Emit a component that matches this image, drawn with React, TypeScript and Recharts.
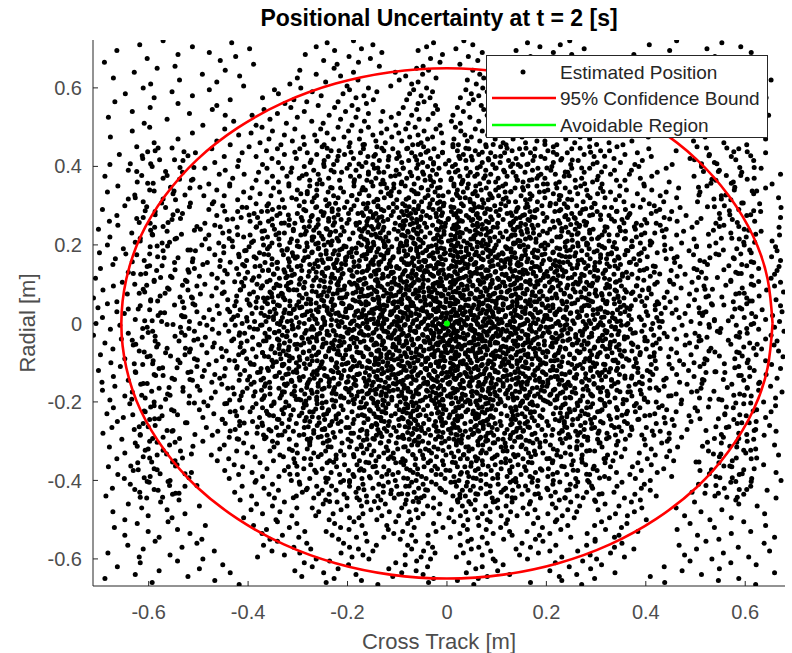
import React from "react";
import { ScatterChart, Scatter, XAxis, YAxis } from "recharts";

// tick values shared by both axes
const axisTicks = [-0.6, -0.4, -0.2, 0, 0.2, 0.4, 0.6];

// estimated positions, one row per radial band (thousandths of a metre):
// [radial, crossTrack, crossTrack, ...]
const rowsTop: number[][] = [
  [720, -571, -188, 34, 247, 462],
  [715, -433, -241, -27, 162, 553],
  [710, -618, -149, 52, 228, 407],
  [705, -512, -263, -41, 187, 591],
  [700, -397, -172, 18, 276, 523],
  [695, -664, -226, -58, 139, 448],
  [690, -478, -131, 71, 214, 612],
  [685, -541, -285, -9, 251, 376],
  [680, -425, -197, 43, 168, 539],
  [675, -603, -154, -33, 296, 471],
  [670, -456, -248, 62, 193, 634],
  [665, -689, -178, -14, 237, 418],
  [660, -389, -221, 26, 145, 566],
  [655, -547, -136, -48, 268, 497],
  [650, -583, -227, -61, 103, 284, 472],
  [645, -446, -296, -37, 52, 219, 611],
  [640, -629, -188, -104, 91, 317, 538],
  [635, -492, -263, -49, 66, 198, 427],
  [630, -417, -214, -83, 118, 273, 583],
  [625, -671, -301, -22, 74, 236, 495],
  [620, -538, -179, -96, 41, 327, 652],
  [615, -463, -244, -58, 109, 205, 401],
  [610, -596, -316, -71, 59, 262, 548],
  [605, -409, -201, -113, 87, 291, 466],
  [600, -611, -294, -158, -41, 72, 203, 341, 502],
  [595, -478, -347, -196, -67, 38, 161, 289, 623],
  [590, -553, -271, -141, -29, 81, 188, 372, 447],
  [585, -647, -339, -209, -75, 49, 152, 298, 581],
  [580, -512, -253, -167, -52, 64, 224, 354, 498],
  [575, -589, -371, -183, -34, 27, 179, 267, 642],
  [570, -436, -308, -148, -81, 53, 197, 332, 529],
  [565, -668, -282, -219, -46, 86, 146, 309, 467],
  [560, -541, -326, -162, -58, 44, 213, 383, 593],
  [555, -463, -259, -191, -23, 69, 168, 276, 548],
  [550, -597, -314, -226, -88, 21, 117, 183, 352, 486],
  [545, -472, -368, -179, -61, -19, 74, 238, 297, 612],
  [540, -633, -287, -204, -129, 33, 103, 167, 381, 531],
  [535, -518, -341, -158, -97, -28, 132, 226, 318, 463],
  [530, -446, -392, -237, -71, 12, 81, 194, 339, 647],
  [525, -681, -301, -183, -112, 46, 126, 251, 274, 509],
  [520, -563, -356, -214, -56, -38, 91, 172, 403, 572],
  [515, -429, -272, -166, -133, 9, 64, 219, 345, 438],
  [510, -609, -323, -249, -78, 27, 141, 206, 286, 596],
  [505, -491, -384, -191, -103, -14, 109, 162, 367, 528],
];

const rowsUpper: number[][] = [
  [500, -598, -372, -219, -158, -64, 17, 93, 139, 261, 318, 471],
  [495, -447, -306, -254, -121, -83, -22, 57, 176, 214, 389, 563],
  [490, -633, -351, -198, -173, -46, 28, 71, 162, 249, 297, 612],
  [485, -512, -394, -241, -132, -97, -11, 104, 128, 226, 361, 437],
  [480, -419, -327, -266, -149, -58, 36, 82, 187, 203, 334, 588],
  [475, -677, -289, -207, -111, -75, -29, 49, 151, 268, 405, 519],
  [470, -541, -358, -228, -176, -39, 14, 97, 133, 239, 287, 641],
  [465, -463, -311, -262, -143, -91, 41, 66, 181, 197, 372, 496],
  [460, -589, -376, -195, -124, -52, -8, 113, 158, 257, 326, 557],
  [455, -436, -334, -247, -169, -69, 23, 78, 119, 221, 354, 603],
  [450, -624, -398, -251, -197, -141, -47, 12, 79, 108, 214, 287, 342, 503],
  [445, -473, -341, -296, -168, -109, -81, -26, 44, 146, 177, 251, 406, 587],
  [440, -587, -363, -233, -217, -127, -38, 21, 57, 131, 203, 309, 327, 461],
  [435, -506, -412, -281, -174, -98, -71, -9, 88, 116, 168, 242, 383, 641],
  [430, -659, -327, -262, -206, -144, -53, 33, 64, 152, 221, 276, 358, 528],
  [425, -448, -384, -239, -159, -117, -64, -18, 49, 97, 189, 296, 411, 572],
  [420, -612, -352, -303, -188, -101, -33, 26, 83, 139, 197, 231, 336, 489],
  [415, -531, -419, -247, -221, -136, -77, 4, 38, 124, 173, 264, 393, 617],
  [410, -467, -339, -275, -163, -91, -49, -27, 71, 107, 214, 302, 349, 538],
  [405, -678, -371, -228, -196, -149, -58, 17, 92, 143, 161, 249, 378, 453],
  [400, -593, -421, -287, -247, -171, -119, -39, 11, 67, 128, 148, 211, 318, 386, 512],
  [395, -487, -362, -331, -201, -146, -88, -61, -16, 39, 97, 183, 251, 287, 441, 632],
  [390, -641, -446, -268, -233, -183, -102, -29, 22, 78, 114, 172, 209, 337, 371, 548],
  [385, -532, -379, -314, -212, -137, -127, -74, 4, 47, 133, 157, 243, 276, 423, 593],
  [380, -458, -408, -283, -259, -158, -96, -47, -21, 61, 88, 189, 218, 329, 367, 671],
  [375, -688, -351, -322, -194, -176, -113, -34, 26, 56, 121, 139, 236, 304, 412, 497],
  [370, -571, -431, -297, -238, -143, -81, -58, 9, 74, 103, 181, 197, 271, 389, 618],
  [365, -514, -384, -276, -216, -161, -129, -44, -13, 32, 142, 166, 258, 341, 358, 541],
  [360, -623, -362, -339, -187, -152, -91, -27, 31, 84, 98, 153, 226, 293, 447, 576],
  [355, -479, -437, -261, -251, -133, -107, -66, 14, 43, 118, 194, 202, 312, 396, 654],
  [350, -662, -437, -318, -276, -187, -149, -84, -31, 14, 58, 112, 163, 181, 269, 348, 397, 523],
  [345, -517, -392, -349, -231, -214, -121, -107, -52, -19, 41, 79, 137, 221, 238, 309, 466, 641],
  [340, -598, -463, -301, -262, -171, -164, -71, -38, 21, 69, 98, 154, 203, 281, 361, 412, 578],
  [335, -683, -409, -337, -239, -208, -133, -96, -24, 3, 33, 117, 128, 186, 247, 329, 441, 509],
  [330, -551, -376, -294, -281, -176, -118, -62, -58, 19, 52, 86, 167, 214, 263, 303, 383, 617],
  [325, -489, -448, -354, -228, -192, -157, -113, -17, -8, 61, 104, 149, 171, 229, 347, 429, 552],
  [320, -627, -396, -312, -267, -219, -126, -77, -44, 26, 37, 91, 119, 197, 288, 318, 462, 667],
  [315, -546, -421, -331, -244, -181, -139, -101, -29, 11, 71, 83, 158, 226, 251, 339, 395, 571],
  [310, -611, -469, -287, -271, -201, -147, -66, -51, -14, 47, 124, 138, 182, 274, 356, 436, 504],
  [305, -472, -384, -359, -237, -168, -108, -89, -34, 29, 54, 109, 161, 219, 236, 298, 407, 629],
  [300, -648, -451, -362, -297, -241, -187, -139, -84, -57, -7, 33, 96, 118, 191, 207, 261, 374, 417, 558],
  [295, -566, -403, -327, -264, -206, -161, -117, -101, -36, 14, 56, 71, 143, 158, 243, 291, 331, 469, 672],
  [290, -693, -479, -351, -288, -218, -193, -132, -67, -28, -16, 48, 87, 107, 181, 229, 273, 359, 428, 587],
  [285, -587, -421, -373, -253, -231, -154, -108, -91, -49, 9, 27, 99, 139, 167, 217, 302, 341, 452, 631],
  [280, -532, -388, -336, -301, -198, -179, -143, -73, -22, 18, 61, 76, 121, 193, 251, 268, 368, 411, 548],
  [275, -664, -463, -342, -271, -249, -168, -112, -78, -41, -11, 39, 104, 131, 152, 239, 287, 326, 481, 603],
  [270, -611, -414, -381, -293, -227, -149, -137, -96, -34, 21, 44, 63, 147, 177, 201, 256, 363, 437, 671],
  [265, -553, -442, -317, -259, -213, -197, -119, -61, -53, 2, 52, 91, 113, 163, 244, 309, 352, 398, 574],
  [260, -679, -396, -359, -276, -238, -161, -128, -88, -17, 24, 31, 79, 134, 196, 213, 276, 337, 463, 619],
  [255, -597, -487, -333, -306, -201, -183, -104, -69, -45, -3, 61, 102, 127, 149, 227, 261, 381, 421, 541],
  [250, -662, -467, -351, -318, -229, -182, -161, -94, -86, -29, 14, 52, 61, 128, 171, 183, 267, 279, 391, 429, 557],
  [245, -588, -422, -384, -287, -263, -211, -139, -127, -58, -41, -11, 23, 93, 101, 142, 216, 239, 322, 347, 493, 668],
  [240, -701, -496, -347, -309, -241, -176, -148, -106, -67, -21, 17, 39, 71, 133, 161, 207, 258, 294, 379, 441, 598],
  [235, -563, -438, -372, -283, -224, -207, -171, -98, -79, -52, -6, 46, 88, 119, 149, 193, 231, 317, 359, 476, 632],
  [230, -634, -451, -338, -327, -257, -189, -134, -117, -61, -34, 21, 31, 62, 107, 174, 202, 264, 287, 398, 418, 571],
  [225, -592, -479, -396, -294, -236, -214, -152, -89, -91, -19, 8, 57, 79, 131, 137, 186, 251, 312, 343, 462, 669],
  [220, -678, -409, -361, -271, -268, -173, -141, -123, -73, -44, -12, 26, 96, 112, 166, 221, 227, 306, 381, 437, 602],
  [215, -547, -486, -338, -313, -249, -196, -166, -101, -57, -27, 17, 48, 54, 123, 158, 179, 273, 291, 357, 497, 588],
  [210, -617, -432, -389, -301, -231, -218, -128, -118, -81, -16, 3, 34, 87, 104, 147, 211, 242, 326, 372, 409, 654],
  [205, -573, -459, -352, -282, -259, -178, -159, -93, -67, -48, 22, 41, 68, 138, 134, 197, 263, 281, 389, 472, 541],
  [200, -683, -493, -369, -337, -247, -233, -172, -147, -94, -81, -22, 9, 47, 83, 99, 154, 191, 203, 281, 306, 409, 438, 598],
  [195, -597, -431, -398, -297, -281, -203, -161, -126, -111, -54, -37, 14, 28, 61, 118, 147, 163, 238, 253, 334, 371, 502, 661],
  [190, -651, -478, -361, -321, -259, -211, -191, -138, -97, -73, -19, -6, 51, 79, 121, 129, 197, 227, 286, 341, 397, 451, 583],
  [185, -571, -506, -407, -286, -243, -226, -158, -154, -86, -61, -43, 16, 39, 86, 93, 157, 183, 241, 271, 302, 364, 487, 664],
  [180, -699, -449, -377, -311, -272, -197, -182, -121, -119, -49, -28, -3, 21, 72, 111, 136, 172, 213, 259, 331, 391, 423, 612],
  [175, -624, -467, -359, -329, -254, -218, -167, -133, -82, -79, -33, 7, 43, 56, 104, 158, 191, 226, 282, 309, 358, 496, 547],
  [170, -582, -418, -388, -301, -279, -191, -201, -144, -108, -58, -14, 22, 36, 83, 97, 131, 176, 239, 247, 344, 403, 463, 653],
  [165, -667, -511, -352, -319, -234, -239, -163, -127, -91, -67, -26, -11, 49, 69, 123, 149, 163, 206, 288, 321, 376, 441, 578],
  [160, -609, -456, -403, -289, -261, -204, -176, -149, -114, -43, -47, 13, 31, 91, 109, 127, 194, 218, 264, 337, 388, 509, 671],
  [155, -548, -482, -366, -342, -249, -223, -153, -137, -86, -71, -18, 19, 26, 58, 116, 143, 171, 234, 276, 298, 367, 458, 617],
  [150, -672, -491, -411, -352, -276, -228, -204, -148, -137, -81, -77, -21, -8, 43, 54, 103, 141, 149, 214, 248, 263, 349, 381, 524, 593],
  [145, -603, -457, -386, -318, -301, -259, -187, -177, -113, -101, -51, -39, 11, 18, 71, 88, 116, 176, 181, 227, 297, 327, 419, 469, 668],
  [140, -697, -508, -423, -341, -269, -243, -213, -158, -122, -96, -58, -26, 4, 33, 61, 109, 127, 169, 209, 252, 279, 344, 402, 497, 627],
  [135, -584, -447, -371, -359, -292, -219, -193, -161, -141, -84, -69, -44, -13, 27, 78, 83, 137, 158, 188, 221, 303, 318, 388, 451, 664],
  [130, -641, -519, -401, -326, -263, -251, -181, -171, -108, -112, -46, -17, 16, 46, 57, 97, 146, 174, 217, 236, 288, 361, 417, 512, 581],
  [125, -616, -473, -419, -348, -307, -231, -211, -143, -129, -89, -62, -33, -6, 21, 69, 111, 119, 153, 196, 257, 271, 336, 372, 479, 659],
  [120, -556, -498, -378, -321, -279, -246, -189, -153, -118, -78, -49, -27, 9, 38, 48, 82, 133, 179, 203, 233, 296, 353, 409, 463, 613],
  [115, -707, -462, -406, -337, -294, -226, -214, -166, -131, -106, -71, -13, -2, 26, 79, 102, 124, 148, 214, 244, 268, 317, 384, 521, 652],
  [110, -589, -526, -392, -356, -268, -254, -178, -176, -144, -93, -56, -38, 13, 44, 63, 91, 141, 167, 188, 221, 302, 348, 396, 448, 571],
  [105, -653, -451, -413, -314, -286, -234, -196, -139, -111, -87, -66, -19, 7, 17, 74, 114, 112, 164, 206, 259, 281, 339, 423, 493, 671],
];

const rowsCore: number[][] = [
  [100, -628, -487, -382, -343, -297, -221, -192, -167, -119, -103, -48, -28, 14, 29, 67, 88, 134, 168, 183, 254, 264, 322, 418, 456, 612],
  [95, -671, -503, -409, -323, -271, -257, -206, -139, -134, -81, -72, -16, -9, 41, 52, 106, 117, 177, 197, 224, 291, 351, 381, 517, 659],
  [90, -562, -464, -374, -348, -288, -236, -179, -158, -111, -92, -54, -37, 6, 23, 76, 99, 143, 149, 213, 241, 276, 319, 406, 471, 594],
  [85, -692, -521, -416, -317, -302, -219, -214, -146, -126, -76, -63, -24, -4, 34, 59, 81, 126, 161, 208, 229, 299, 338, 393, 502, 643],
  [80, -608, -448, -389, -356, -263, -248, -183, -173, -141, -97, -47, -31, 12, 19, 68, 109, 121, 172, 186, 258, 269, 361, 374, 443, 677],
  [75, -643, -496, -397, -331, -283, -229, -201, -152, -113, -84, -68, -12, 3, 46, 49, 93, 138, 157, 219, 236, 286, 327, 411, 488, 581],
  [70, -577, -473, -423, -339, -259, -241, -168, -161, -128, -109, -57, -36, -11, 28, 72, 87, 129, 178, 193, 247, 301, 344, 388, 526, 628],
  [65, -711, -512, -369, -361, -291, -216, -211, -138, -117, -79, -61, -22, 8, 31, 56, 103, 113, 148, 211, 221, 279, 356, 402, 461, 603],
  [60, -596, -441, -402, -326, -274, -252, -189, -147, -137, -91, -44, -27, 17, 37, 79, 84, 141, 167, 202, 263, 284, 314, 379, 498, 662],
  [55, -664, -532, -384, -349, -298, -233, -176, -163, -106, -98, -73, -19, -2, 22, 64, 97, 132, 176, 181, 241, 293, 347, 423, 449, 576],
  [50, -683, -511, -398, -361, -283, -274, -209, -172, -158, -108, -91, -44, -33, 11, 17, 71, 99, 113, 163, 191, 233, 251, 321, 337, 426, 532, 603],
  [45, -617, -462, -427, -337, -316, -247, -229, -196, -134, -121, -73, -67, -14, 6, 43, 64, 82, 131, 141, 169, 204, 276, 286, 371, 398, 486, 671],
  [40, -702, -529, -384, -372, -296, -241, -197, -193, -141, -103, -82, -49, -18, -4, 33, 51, 98, 123, 158, 199, 213, 271, 309, 362, 439, 507, 589],
  [35, -598, -478, -416, -326, -309, -263, -231, -168, -151, -126, -78, -53, -27, 13, 26, 72, 87, 112, 137, 177, 228, 239, 294, 343, 419, 461, 634],
  [30, -664, -503, -437, -356, -281, -259, -204, -183, -129, -113, -94, -41, -22, 9, 37, 47, 91, 104, 152, 188, 221, 262, 318, 358, 401, 521, 674],
  [25, -649, -458, -392, -344, -314, -238, -224, -171, -148, -111, -84, -63, -9, 1, 31, 66, 79, 129, 157, 167, 217, 248, 303, 349, 431, 479, 613],
  [20, -581, -534, -421, -367, -291, -271, -216, -186, -163, -131, -72, -56, -31, 16, 22, 55, 93, 118, 142, 197, 201, 266, 281, 366, 404, 514, 655],
  [15, -693, -489, -403, -331, -303, -249, -201, -177, -136, -99, -89, -36, -12, -2, 41, 62, 84, 133, 149, 174, 234, 263, 311, 333, 422, 467, 598],
  [10, -627, -471, -433, -349, -277, -264, -232, -162, -154, -121, -79, -61, -24, 7, 28, 53, 101, 109, 161, 183, 209, 241, 297, 371, 391, 538, 641],
  [5, -574, -518, -387, -364, -321, -246, -213, -191, -139, -106, -98, -47, -6, 19, 34, 73, 88, 127, 136, 193, 224, 274, 327, 342, 433, 491, 669],
  [0, -706, -497, -412, -341, -287, -261, -194, -169, -146, -127, -69, -52, -17, 4, 24, 61, 91, 104, 156, 179, 219, 256, 289, 364, 414, 509, 617],
  [-5, -658, -483, -426, -375, -311, -233, -219, -181, -131, -101, -86, -38, -29, 12, 39, 48, 78, 121, 147, 168, 228, 238, 314, 351, 397, 473, 582],
  [-10, -603, -536, -397, -328, -299, -252, -205, -162, -159, -116, -74, -57, -8, -1, 29, 67, 94, 131, 134, 199, 207, 281, 302, 339, 428, 528, 659],
  [-15, -677, -472, -381, -357, -274, -268, -187, -197, -142, -94, -92, -43, -21, 14, 46, 52, 103, 112, 166, 186, 236, 249, 277, 369, 411, 457, 627],
  [-20, -592, -508, -439, -338, -321, -241, -227, -173, -127, -123, -66, -63, -13, 3, 21, 74, 84, 119, 151, 171, 203, 268, 322, 346, 392, 544, 678],
  [-25, -641, -459, -407, -366, -286, -256, -199, -176, -149, -107, -88, -31, -26, 17, 33, 57, 99, 128, 139, 194, 219, 243, 291, 374, 437, 499, 604],
  [-30, -711, -527, -418, -331, -305, -237, -223, -158, -166, -111, -77, -48, -4, 8, 41, 69, 81, 107, 161, 163, 231, 272, 313, 331, 416, 481, 652],
  [-35, -613, -486, -391, -358, -292, -271, -209, -189, -134, -118, -97, -39, -16, 19, 27, 54, 92, 124, 144, 182, 211, 259, 286, 363, 398, 523, 588],
  [-40, -655, -501, -429, -341, -279, -249, -193, -181, -151, -102, -71, -59, -28, 11, 36, 63, 89, 114, 163, 176, 222, 247, 319, 357, 427, 462, 641],
  [-45, -587, -539, -402, -369, -316, -262, -216, -167, -128, -129, -82, -46, -7, 6, 18, 71, 77, 133, 138, 196, 233, 276, 304, 337, 403, 507, 664],
  [-50, -688, -468, -414, -327, -288, -243, -232, -187, -143, -96, -81, -34, -19, 1, 44, 49, 97, 102, 157, 169, 212, 261, 284, 371, 421, 488, 609],
  [-55, -631, -493, -377, -337, -294, -229, -213, -147, -131, -86, -69, -18, 4, 36, 57, 87, 143, 153, 196, 253, 271, 328, 414, 479, 658],
  [-60, -584, -471, -416, -318, -268, -251, -182, -163, -109, -103, -53, -29, 11, 21, 73, 109, 119, 166, 212, 228, 297, 341, 384, 502, 597],
  [-65, -672, -516, -391, -354, -302, -227, -196, -158, -126, -77, -61, -36, -3, 29, 66, 81, 132, 174, 186, 239, 276, 319, 401, 451, 633],
  [-70, -619, -444, -408, -329, -277, -238, -219, -141, -138, -96, -47, -24, 9, 46, 52, 98, 123, 148, 201, 262, 288, 357, 372, 527, 667],
  [-75, -566, -483, -371, -346, -289, -259, -177, -173, -117, -85, -72, -11, 1, 37, 62, 93, 113, 178, 193, 224, 266, 332, 417, 462, 588],
  [-80, -697, -527, -419, -323, -263, -216, -204, -152, -121, -109, -56, -31, 16, 24, 78, 89, 139, 157, 218, 247, 291, 349, 388, 491, 622],
  [-85, -603, -452, -384, -359, -297, -244, -191, -168, -133, -81, -64, -26, -7, 42, 58, 107, 128, 163, 199, 233, 302, 323, 408, 446, 676],
  [-90, -648, -508, -403, -334, -281, -233, -209, -137, -112, -99, -43, -38, 13, 17, 69, 96, 117, 171, 184, 256, 279, 361, 379, 519, 579],
  [-95, -591, -464, -427, -317, -271, -261, -186, -159, -144, -91, -59, -14, -4, 33, 61, 84, 141, 146, 209, 216, 287, 336, 419, 468, 641],
  [-100, -676, -537, -396, -349, -303, -222, -199, -176, -119, -79, -67, -22, 7, 27, 49, 111, 124, 159, 194, 244, 294, 344, 381, 497, 604],
];

const rowsLower: number[][] = [
  [-105, -612, -479, -388, -331, -276, -253, -211, -146, -138, -97, -51, -33, 12, 39, 71, 94, 116, 171, 188, 251, 268, 318, 411, 476, 653],
  [-110, -657, -503, -422, -351, -298, -224, -189, -171, -112, -86, -74, -17, -6, 22, 59, 108, 131, 152, 213, 229, 297, 354, 376, 509, 587],
  [-115, -579, -446, -374, -318, -284, -247, -193, -154, -131, -109, -44, -41, 8, 44, 54, 79, 143, 164, 183, 257, 273, 329, 421, 453, 671],
  [-120, -701, -488, -407, -359, -261, -233, -207, -139, -119, -82, -67, -27, 16, 16, 76, 97, 119, 177, 208, 221, 289, 341, 403, 486, 618],
  [-125, -626, -521, -381, -337, -302, -219, -218, -164, -127, -93, -53, -9, -1, 36, 48, 103, 137, 146, 194, 247, 303, 312, 384, 521, 559],
  [-130, -589, -467, -416, -324, -271, -261, -181, -179, -106, -111, -58, -36, 11, 27, 67, 86, 128, 173, 199, 238, 261, 347, 414, 462, 642],
  [-135, -671, -492, -397, -346, -289, -241, -198, -143, -141, -78, -71, -19, 3, 41, 62, 113, 114, 158, 217, 222, 294, 319, 393, 497, 609],
  [-140, -553, -457, -369, -331, -267, -228, -213, -167, -116, -103, -47, -31, 14, 19, 79, 91, 139, 166, 186, 259, 279, 358, 371, 441, 664],
  [-145, -641, -512, -418, -313, -296, -254, -184, -157, -133, -88, -62, -24, -9, 31, 51, 107, 121, 178, 203, 231, 286, 331, 408, 517, 597],
  [-150, -694, -473, -388, -357, -279, -237, -202, -148, -124, -99, -43, -39, 6, 46, 64, 89, 144, 152, 193, 244, 272, 344, 387, 468, 629],
  [-155, -616, -453, -394, -327, -281, -219, -187, -161, -103, -89, -39, 4, 26, 73, 99, 139, 161, 226, 241, 296, 379, 483, 573],
  [-160, -668, -502, -367, -306, -259, -237, -163, -136, -117, -54, -27, -13, 47, 62, 113, 127, 192, 201, 281, 331, 366, 437, 651],
  [-165, -579, -441, -402, -338, -247, -204, -193, -121, -86, -79, -18, 12, 34, 84, 87, 151, 172, 239, 257, 306, 408, 511, 604],
  [-170, -693, -497, -373, -293, -273, -228, -154, -146, -108, -62, -41, -6, 21, 71, 106, 122, 189, 214, 284, 342, 389, 426, 627],
  [-175, -633, -466, -411, -327, -261, -197, -178, -131, -91, -73, -29, 16, 49, 59, 96, 146, 167, 233, 252, 309, 364, 492, 674],
  [-180, -562, -428, -356, -312, -286, -223, -161, -143, -123, -57, -12, 7, 31, 87, 118, 131, 183, 209, 289, 324, 391, 461, 589],
  [-185, -648, -518, -389, -306, -251, -213, -181, -122, -97, -68, -34, 1, 51, 68, 101, 158, 176, 222, 273, 293, 372, 446, 612],
  [-190, -607, -474, -369, -336, -277, -207, -168, -152, -83, -86, -22, 18, 29, 79, 123, 141, 161, 238, 249, 338, 397, 508, 661],
  [-195, -678, -437, -417, -294, -262, -231, -189, -129, -111, -49, -31, -8, 42, 66, 93, 134, 194, 217, 268, 311, 361, 472, 553],
  [-200, -589, -489, -348, -324, -243, -198, -173, -139, -94, -71, -16, 23, 37, 58, 109, 152, 171, 203, 283, 327, 404, 421, 637],
  [-205, -638, -447, -384, -287, -261, -187, -162, -118, -83, -24, 9, 47, 78, 103, 167, 208, 238, 293, 354, 471, 597],
  [-210, -589, -481, -353, -318, -228, -213, -141, -101, -68, -39, -7, 31, 91, 117, 147, 182, 263, 318, 377, 433, 661],
  [-215, -671, -412, -371, -289, -251, -176, -173, -123, -79, -21, 18, 24, 64, 128, 158, 219, 229, 281, 388, 499, 576],
  [-220, -554, -498, -332, -309, -238, -209, -156, -96, -61, -47, -2, 42, 81, 98, 139, 193, 257, 312, 343, 442, 623],
  [-225, -607, -436, -396, -276, -269, -191, -131, -127, -89, -17, 13, 38, 71, 131, 169, 176, 248, 303, 379, 461, 652],
  [-230, -684, -469, -361, -329, -242, -218, -147, -104, -73, -31, -9, 52, 59, 109, 151, 214, 242, 278, 361, 418, 559],
  [-235, -573, -423, -349, -297, -223, -179, -166, -112, -58, -42, 21, 29, 88, 121, 133, 187, 268, 326, 398, 487, 602],
  [-240, -651, -491, -377, -283, -258, -201, -138, -133, -91, -14, 4, 57, 63, 93, 171, 191, 231, 297, 342, 437, 641],
  [-245, -598, -452, -338, -317, -246, -187, -159, -97, -66, -36, 16, 22, 82, 129, 138, 218, 253, 289, 384, 453, 577],
  [-250, -663, -417, -391, -276, -231, -213, -126, -116, -78, -23, -11, 48, 73, 107, 162, 201, 236, 309, 357, 491, 622],
  [-255, -611, -446, -332, -303, -219, -189, -143, -73, -47, 12, 36, 97, 131, 157, 236, 291, 363, 421, 584],
  [-260, -587, -417, -371, -261, -236, -151, -118, -96, -26, -9, 59, 73, 109, 183, 204, 269, 331, 457, 649],
  [-265, -674, -484, -343, -287, -203, -197, -107, -77, -52, 17, 22, 91, 147, 166, 241, 297, 337, 401, 562],
  [-270, -629, -426, -358, -251, -246, -171, -139, -61, -37, 3, 48, 101, 121, 191, 213, 276, 372, 483, 621],
  [-275, -553, -461, -326, -309, -214, -161, -121, -102, -21, -17, 37, 64, 139, 153, 232, 259, 351, 429, 662],
  [-280, -692, -403, -382, -268, -193, -188, -134, -69, -44, 8, 54, 82, 116, 177, 226, 304, 322, 447, 587],
  [-285, -617, -472, -339, -297, -241, -142, -113, -89, -33, 21, 31, 94, 128, 198, 211, 263, 368, 416, 638],
  [-290, -571, -438, -364, -259, -226, -177, -98, -91, -57, -11, 43, 68, 143, 149, 247, 283, 326, 472, 556],
  [-295, -654, -419, -317, -281, -199, -161, -146, -76, -23, 14, 29, 103, 113, 181, 228, 303, 359, 397, 617],
  [-300, -598, -491, -351, -276, -241, -193, -117, -66, -49, -4, 62, 78, 136, 166, 198, 262, 344, 443, 604],
  [-305, -627, -409, -341, -249, -211, -134, -102, -37, -11, 29, 93, 117, 173, 232, 306, 432, 552],
  [-310, -558, -448, -303, -276, -173, -156, -71, -59, 19, 63, 72, 151, 208, 271, 341, 399, 659],
  [-315, -679, -391, -348, -233, -196, -122, -87, -26, 4, 38, 109, 131, 187, 247, 312, 464, 583],
  [-320, -601, -457, -317, -281, -181, -161, -99, -43, -18, 51, 86, 159, 214, 261, 358, 411, 621],
  [-325, -536, -423, -356, -244, -214, -147, -78, -54, 23, 44, 113, 121, 176, 281, 297, 448, 526],
  [-330, -648, -402, -301, -268, -168, -127, -108, -31, 9, 68, 79, 164, 193, 238, 339, 387, 601],
  [-335, -583, -474, -336, -223, -207, -152, -68, -49, -2, 33, 101, 143, 221, 272, 323, 419, 667],
  [-340, -611, -386, -329, -259, -187, -137, -113, -21, 14, 57, 96, 137, 169, 229, 351, 442, 548],
  [-345, -664, -439, -308, -274, -223, -118, -89, -63, 27, 41, 118, 153, 201, 271, 316, 403, 612],
  [-350, -547, -462, -349, -236, -176, -143, -84, -33, -9, 59, 71, 127, 213, 254, 334, 456, 574],
  [-355, -622, -376, -306, -241, -157, -103, -38, 17, 49, 118, 171, 212, 318, 384, 547],
  [-360, -543, -428, -274, -206, -181, -87, -64, -7, 72, 97, 143, 251, 279, 411, 637],
  [-365, -681, -411, -319, -222, -149, -127, -46, 21, 36, 131, 156, 236, 329, 373, 573],
  [-370, -589, -362, -288, -251, -173, -81, -59, -19, 63, 109, 188, 204, 294, 436, 618],
  [-375, -631, -447, -327, -198, -167, -117, -31, 6, 57, 89, 159, 263, 302, 391, 509],
  [-380, -514, -392, -263, -233, -141, -98, -68, 29, 41, 127, 178, 222, 341, 423, 662],
  [-385, -662, -419, -301, -216, -189, -109, -22, -12, 78, 102, 149, 241, 287, 368, 588],
  [-390, -597, -371, -338, -187, -156, -131, -51, 14, 44, 121, 167, 203, 317, 452, 541],
  [-395, -649, -438, -276, -239, -171, -79, -42, -4, 59, 92, 138, 259, 326, 379, 613],
  [-400, -557, -384, -313, -208, -196, -104, -62, 24, 68, 133, 183, 214, 283, 409, 672],
  [-405, -599, -386, -243, -214, -118, -71, 8, 41, 127, 171, 286, 352, 571],
  [-410, -637, -351, -296, -169, -137, -48, -22, 79, 103, 213, 248, 397, 506],
  [-415, -527, -412, -262, -196, -101, -83, 19, 53, 144, 182, 259, 342, 611],
  [-420, -673, -368, -281, -178, -149, -57, -14, 68, 118, 201, 293, 391, 558],
  [-425, -581, -339, -251, -223, -112, -39, 31, 47, 132, 163, 241, 409, 644],
  [-430, -618, -427, -291, -183, -128, -66, -3, 86, 109, 218, 281, 336, 493],
  [-435, -552, -358, -237, -207, -97, -79, 26, 62, 151, 177, 306, 378, 597],
  [-440, -686, -393, -303, -162, -139, -46, 12, 37, 121, 209, 262, 421, 539],
  [-445, -604, -347, -268, -201, -106, -61, -27, 91, 137, 188, 238, 357, 662],
  [-450, -539, -416, -244, -176, -133, -82, 21, 57, 102, 226, 297, 389, 581],
  [-455, -576, -327, -221, -161, -57, 22, 93, 131, 249, 371, 498],
  [-460, -641, -383, -249, -124, -84, -14, 48, 166, 212, 318, 587],
  [-465, -498, -351, -201, -172, -39, 31, 78, 119, 267, 346, 624],
  [-470, -614, -302, -271, -138, -91, -27, 102, 153, 219, 392, 461],
  [-475, -563, -394, -213, -153, -62, 9, 56, 177, 243, 304, 553],
  [-480, -672, -336, -258, -116, -76, 38, 87, 128, 261, 377, 511],
  [-485, -527, -371, -229, -169, -48, -16, 71, 162, 203, 339, 639],
  [-490, -601, -312, -264, -131, -97, 27, 109, 141, 232, 363, 478],
  [-495, -553, -409, -196, -177, -58, 4, 62, 183, 256, 327, 572],
  [-500, -648, -344, -237, -141, -73, 42, 81, 122, 221, 401, 529],
];

const rowsBottom: number[][] = [
  [-505, -561, -341, -187, -103, 14, 87, 218, 311, 597],
  [-510, -623, -302, -226, -79, -27, 119, 174, 362, 489],
  [-515, -486, -389, -171, -121, 33, 64, 243, 297, 641],
  [-520, -669, -317, -214, -66, -8, 108, 192, 351, 538],
  [-525, -542, -363, -197, -118, 41, 79, 229, 319, 463],
  [-530, -601, -286, -243, -89, -22, 126, 161, 384, 611],
  [-535, -517, -372, -164, -107, 26, 93, 207, 282, 572],
  [-540, -648, -331, -231, -71, -38, 131, 186, 346, 504],
  [-545, -579, -298, -182, -127, 7, 71, 249, 337, 659],
  [-550, -493, -356, -218, -94, 49, 114, 178, 298, 547],
  [-555, -587, -341, -161, -63, 42, 193, 298, 521],
  [-560, -503, -282, -208, -38, 81, 151, 352, 638],
  [-565, -642, -369, -142, -79, 27, 219, 281, 467],
  [-570, -533, -308, -196, -29, 64, 168, 337, 586],
  [-575, -611, -274, -178, -71, 49, 139, 376, 502],
  [-580, -468, -352, -149, -47, 88, 207, 263, 649],
  [-585, -682, -296, -213, -24, 33, 184, 329, 556],
  [-590, -557, -327, -169, -84, 71, 146, 288, 478],
  [-595, -619, -381, -191, -52, 19, 231, 357, 607],
  [-600, -491, -263, -157, -33, 93, 162, 301, 533],
  [-605, -542, -236, -61, 97, 273, 489],
  [-610, -617, -287, -103, 44, 218, 571],
  [-615, -451, -198, -84, 113, 311, 622],
  [-620, -663, -271, -39, 71, 246, 437],
  [-625, -498, -219, -117, 58, 289, 548],
  [-630, -579, -306, -62, 102, 207, 473],
  [-635, -436, -248, -91, 39, 338, 659],
  [-640, -627, -183, -48, 126, 261, 512],
  [-645, -521, -292, -109, 81, 226, 409],
  [-650, -688, -227, -27, 63, 297, 587],
  [-655, -467, -172, 21, 231, 546],
  [-660, -593, -243, -37, 168, 438],
  [-665, -418, -139, 54, 271, 621],
];

// the packed middle of the cloud, between the rows above
const rowsDense: number[][] = [
  [297, -262, -139, -76, 8, 64, 163, 241],
  [292, -231, -163, -58, -14, 81, 141, 279],
  [287, -284, -127, -81, 23, 52, 177, 226],
  [282, -247, -171, -63, -9, 77, 128, 268],
  [277, -219, -148, -87, 14, 59, 156, 293],
  [272, -273, -131, -52, -21, 88, 171, 237],
  [267, -238, -158, -71, 3, 66, 139, 258],
  [262, -291, -141, -83, 27, 49, 166, 224],
  [257, -226, -176, -61, -12, 84, 132, 281],
  [252, -259, -137, -74, 19, 71, 158, 249],
  [247, -277, -152, -56, -4, 62, 147, 266],
  [242, -243, -166, -89, 11, 79, 174, 231],
  [237, -268, -129, -67, -17, 57, 136, 287],
  [232, -234, -159, -78, 26, 83, 162, 244],
  [227, -286, -144, -59, -6, 68, 151, 262],
  [222, -252, -173, -84, 16, 54, 129, 229],
  [217, -221, -134, -69, -23, 86, 168, 276],
  [212, -271, -161, -53, 9, 73, 143, 252],
  [207, -239, -148, -82, -11, 61, 179, 238],
  [202, -264, -126, -64, 21, 78, 134, 283],
  [197, -301, -207, -124, -89, -31, 18, 71, 146, 189, 264],
  [192, -258, -183, -152, -61, -12, 39, 96, 121, 221, 317],
  [187, -322, -216, -118, -74, -41, 7, 82, 157, 176, 248],
  [182, -271, -193, -141, -97, -19, 28, 59, 129, 214, 296],
  [177, -243, -229, -161, -58, -6, 44, 88, 113, 197, 331],
  [172, -309, -171, -127, -83, -36, 13, 64, 151, 231, 257],
  [167, -286, -204, -109, -69, -27, 31, 101, 138, 182, 309],
  [162, -252, -221, -149, -91, -3, 47, 73, 118, 208, 271],
  [157, -317, -187, -133, -56, -44, 22, 86, 161, 226, 243],
  [152, -266, -212, -116, -79, -14, 36, 57, 127, 191, 322],
  [147, -294, -178, -158, -66, -33, 9, 93, 144, 219, 284],
  [142, -239, -226, -121, -101, -22, 41, 68, 109, 186, 261],
  [137, -328, -196, -137, -54, -8, 27, 79, 153, 232, 297],
  [132, -277, -169, -146, -86, -39, 16, 98, 131, 201, 239],
  [127, -251, -209, -112, -71, -17, 52, 61, 162, 173, 314],
  [122, -312, -191, -153, -63, -29, 4, 87, 117, 224, 276],
  [117, -263, -233, -128, -94, -1, 33, 72, 141, 194, 251],
  [112, -296, -174, -141, -59, -47, 21, 104, 126, 211, 327],
  [107, -247, -218, -107, -81, -11, 46, 66, 158, 181, 268],
  [102, -319, -186, -163, -68, -24, 11, 91, 136, 228, 293],
  [97, -341, -219, -181, -97, -72, -13, 31, 52, 128, 149, 243, 286],
  [92, -288, -246, -152, -131, -49, -28, 8, 87, 104, 177, 211, 327],
  [87, -319, -207, -171, -113, -82, -4, 41, 61, 137, 161, 254, 279],
  [82, -271, -238, -143, -94, -57, -36, 17, 79, 122, 189, 207, 341],
  [77, -333, -221, -189, -121, -64, -19, 26, 48, 96, 153, 236, 298],
  [72, -297, -253, -158, -103, -88, -8, 33, 84, 131, 171, 219, 312],
  [67, -352, -204, -176, -139, -46, -31, 12, 66, 108, 143, 249, 271],
  [62, -279, -231, -149, -92, -76, -2, 44, 58, 119, 186, 201, 336],
  [57, -316, -248, -184, -118, -53, -24, 21, 91, 99, 158, 231, 289],
  [52, -263, -212, -137, -109, -69, -14, 6, 73, 141, 166, 257, 319],
  [47, -341, -226, -163, -127, -42, -33, 38, 54, 113, 192, 213, 282],
  [42, -292, -257, -192, -99, -81, -7, 27, 86, 127, 149, 241, 349],
  [37, -307, -203, -146, -134, -61, -26, 14, 62, 104, 178, 226, 303],
  [32, -274, -241, -179, -107, -48, -17, 47, 81, 136, 157, 207, 271],
  [27, -328, -219, -156, -89, -73, -1, 19, 69, 92, 183, 249, 323],
  [22, -286, -234, -133, -114, -56, -38, 33, 49, 139, 171, 218, 294],
  [17, -349, -208, -171, -101, -79, -11, 8, 93, 117, 147, 236, 267],
  [12, -266, -249, -148, -126, -44, -21, 41, 76, 101, 196, 204, 338],
  [7, -313, -222, -187, -93, -67, -4, 24, 58, 134, 163, 253, 286],
  [2, -297, -211, -161, -128, -51, -29, 16, 83, 111, 174, 223, 309],
  [-3, -336, -246, -139, -111, -84, -12, 36, 62, 126, 152, 241, 279],
  [-8, -271, -217, -176, -97, -59, -23, 9, 71, 97, 189, 212, 331],
  [-13, -309, -253, -158, -131, -41, -6, 29, 88, 143, 168, 247, 296],
  [-18, -283, -229, -191, -104, -74, -33, 51, 56, 121, 137, 231, 318],
  [-23, -347, -201, -147, -119, -63, -16, 13, 79, 109, 179, 206, 273],
  [-28, -261, -241, -169, -91, -49, -1, 42, 64, 131, 158, 259, 344],
  [-33, -322, -214, -136, -137, -81, -27, 21, 93, 102, 191, 227, 291],
  [-38, -291, -263, -183, -112, -57, -9, 34, 71, 146, 149, 214, 307],
  [-43, -338, -226, -152, -96, -71, -36, 6, 54, 119, 173, 243, 264],
  [-48, -276, -207, -174, -128, -44, -14, 47, 86, 98, 162, 219, 329],
  [-53, -301, -249, -141, -108, -67, -22, 24, 63, 136, 184, 252, 282],
  [-58, -352, -218, -196, -89, -53, -5, 31, 77, 113, 141, 209, 313],
  [-63, -268, -236, -162, -124, -78, -31, 11, 52, 128, 177, 238, 296],
  [-68, -319, -203, -137, -102, -46, -18, 43, 81, 107, 154, 226, 347],
  [-73, -289, -258, -181, -116, -62, -3, 18, 68, 142, 193, 203, 268],
  [-78, -336, -221, -153, -133, -84, -26, 37, 57, 119, 163, 247, 304],
  [-83, -272, -244, -169, -93, -51, -12, 22, 94, 101, 179, 216, 322],
  [-88, -311, -209, -144, -121, -71, -39, 8, 72, 131, 149, 256, 287],
  [-93, -296, -232, -188, -106, -58, -7, 46, 61, 114, 187, 222, 339],
  [-98, -343, -251, -156, -129, -43, -21, 27, 89, 124, 158, 231, 276],
  [-103, -287, -203, -138, -76, -17, 31, 82, 141, 199, 301],
  [-108, -331, -181, -121, -93, -33, 14, 69, 129, 226, 262],
  [-113, -256, -221, -161, -64, -8, 42, 91, 158, 183, 289],
  [-118, -303, -194, -112, -87, -41, 21, 63, 116, 214, 318],
  [-123, -268, -229, -147, -71, -24, 6, 97, 137, 192, 247],
  [-128, -319, -176, -131, -98, -11, 38, 74, 153, 231, 279],
  [-133, -246, -212, -156, -59, -36, 24, 86, 121, 176, 307],
  [-138, -297, -188, -119, -81, -2, 49, 58, 144, 209, 256],
  [-143, -276, -236, -139, -67, -28, 17, 103, 131, 224, 331],
  [-148, -312, -199, -164, -94, -19, 33, 77, 162, 187, 271],
  [-153, -259, -217, -108, -72, -47, 2, 89, 113, 203, 296],
  [-158, -324, -183, -151, -86, -13, 44, 66, 149, 236, 248],
  [-163, -282, -226, -127, -57, -31, 28, 94, 127, 181, 313],
  [-168, -251, -201, -142, -99, -6, 19, 71, 156, 217, 274],
  [-173, -307, -171, -116, -78, -39, 51, 83, 138, 196, 322],
  [-178, -271, -231, -158, -62, -22, 12, 61, 119, 228, 259],
  [-183, -333, -192, -133, -91, -16, 37, 98, 164, 207, 291],
  [-188, -262, -214, -111, -69, -43, 8, 76, 133, 188, 247],
  [-193, -298, -186, -149, -84, -9, 29, 87, 107, 221, 308],
  [-198, -284, -224, -126, -54, -27, 46, 59, 152, 198, 268],
  [-203, -251, -147, -62, 11, 83, 149, 262],
  [-208, -283, -129, -79, -14, 61, 173, 233],
  [-213, -227, -166, -57, 24, 71, 138, 289],
  [-218, -264, -138, -86, -7, 88, 161, 246],
  [-223, -239, -154, -68, 17, 53, 131, 271],
  [-228, -292, -123, -81, -19, 76, 168, 228],
  [-233, -248, -171, -54, 6, 64, 142, 284],
  [-238, -271, -143, -73, 29, 87, 157, 241],
  [-243, -223, -159, -88, -11, 58, 136, 263],
  [-248, -286, -132, -63, 21, 79, 176, 226],
  [-253, -257, -167, -77, -3, 67, 146, 278],
  [-258, -234, -141, -59, 14, 84, 128, 252],
  [-263, -279, -152, -84, -22, 56, 163, 237],
  [-268, -246, -126, -66, 9, 73, 141, 291],
  [-273, -268, -174, -51, 26, 62, 154, 231],
  [-278, -229, -136, -79, -8, 89, 133, 268],
  [-283, -288, -161, -71, 18, 51, 171, 244],
  [-288, -253, -131, -56, -17, 78, 148, 276],
  [-293, -274, -149, -87, 4, 66, 127, 239],
  [-298, -237, -168, -64, 23, 82, 159, 283],
];

// the ring around the packed middle: sides, then top and bottom caps
const rowsRingSide: number[][] = [
  [296, -338, -412, 317, 389], [286, -361, -447, 342, 421], [276, -319, -398, 309, 366],
  [266, -352, -431, 331, 448], [256, -327, -376, 356, 402], [246, -383, -456, 318, 377],
  [236, -309, -367, 349, 433], [226, -344, -421, 326, 391], [216, -371, -438, 303, 359],
  [206, -316, -393, 337, 412], [196, -357, -449, 312, 373], [186, -332, -404, 361, 438],
  [176, -368, -419, 324, 386], [166, -305, -384, 346, 457], [156, -341, -436, 307, 369],
  [146, -376, -407, 338, 415], [136, -313, -359, 319, 396], [126, -349, -442, 353, 428],
  [116, -324, -389, 304, 364], [106, -362, -427, 341, 449], [96, -336, -371, 327, 382],
  [86, -308, -415, 358, 406], [76, -353, -452, 311, 371], [66, -329, -381, 344, 437],
  [56, -366, -424, 322, 392], [46, -302, -396, 356, 419], [36, -347, -441, 309, 368],
  [26, -318, -374, 333, 453], [16, -359, -429, 316, 387], [6, -334, -402, 349, 426],
  [-4, -372, -446, 305, 361], [-14, -311, -388, 338, 411], [-24, -346, -417, 321, 379],
  [-34, -323, -362, 357, 443], [-44, -364, -433, 313, 398], [-54, -306, -379, 346, 374],
  [-64, -338, -454, 327, 429], [-74, -371, -411, 308, 389], [-84, -317, -367, 352, 416],
  [-94, -352, -438, 334, 366], [-104, -328, -394, 315, 447], [-114, -361, -423, 343, 384],
  [-124, -309, -376, 326, 409], [-134, -343, -448, 358, 372], [-144, -374, -401, 311, 436],
  [-154, -321, -365, 337, 393], [-164, -356, -431, 304, 421], [-174, -331, -386, 348, 369],
  [-184, -367, -414, 323, 451], [-194, -303, -372, 355, 397], [-204, -348, -443, 317, 381],
  [-214, -326, -391, 341, 426], [-224, -363, -426, 308, 363], [-234, -314, -357, 352, 408],
  [-244, -341, -452, 329, 386], [-254, -372, -408, 314, 439], [-264, -319, -381, 346, 371],
  [-274, -354, -436, 306, 413], [-284, -332, -369, 339, 392], [-294, -367, -422, 321, 447],
];

const rowsRingCap: number[][] = [
  [456, -287, -166, -58, 12, 93, 197, 301],
  [446, -241, -131, -79, 38, 121, 159, 268],
  [436, -306, -193, -42, -9, 71, 214, 289],
  [426, -219, -147, -96, 24, 108, 176, 317],
  [416, -273, -118, -61, 51, 84, 229, 252],
  [406, -248, -177, -27, -3, 132, 163, 294],
  [396, -312, -139, -88, 61, 99, 201, 271],
  [386, -227, -158, -49, 17, 116, 238, 311],
  [376, -291, -104, -71, 42, 77, 184, 246],
  [366, -256, -186, -33, 8, 141, 171, 302],
  [356, -318, -126, -92, 29, 66, 219, 277],
  [346, -234, -169, -51, -14, 104, 152, 259],
  [336, -281, -112, -66, 57, 129, 196, 314],
  [326, -262, -191, -38, 21, 88, 226, 283],
  [316, -303, -141, -82, 46, 113, 167, 243],
  [306, -224, -159, -19, -6, 74, 208, 296],
  [-304, -276, -133, -57, 19, 96, 187, 308],
  [-314, -239, -172, -84, 43, 118, 149, 261],
  [-324, -311, -119, -36, -8, 71, 222, 287],
  [-334, -253, -188, -69, 34, 134, 178, 249],
  [-344, -287, -107, -47, 62, 91, 206, 319],
  [-354, -228, -163, -93, 11, 109, 164, 272],
  [-364, -302, -144, -24, 48, 83, 231, 296],
  [-374, -266, -176, -74, -2, 126, 191, 254],
  [-384, -316, -121, -59, 27, 68, 213, 281],
  [-394, -244, -154, -87, 53, 102, 172, 307],
  [-404, -297, -196, -31, 16, 139, 227, 263],
  [-414, -232, -128, -76, 39, 87, 158, 291],
  [-424, -283, -167, -43, -11, 114, 203, 246],
  [-434, -258, -113, -91, 58, 79, 184, 312],
  [-444, -309, -181, -52, 26, 131, 237, 274],
  [-454, -236, -146, -68, 44, 97, 168, 299],
];

// points near the left and right edges of the bound
const rowsFlank: number[][] = [
  [447, -553, -581, 522, 563], [437, -602, -529, 577, 604], [427, -521, -613, 611, 527],
  [417, -578, -548, 498, 581], [407, -637, -596, 543, 512], [397, -509, -537, 589, 618],
  [387, -566, -624, 516, 546], [377, -614, -563, 562, 591], [367, -538, -511, 604, 533],
  [357, -591, -602, 531, 572], [347, -497, -556, 579, 506], [337, -549, -589, 623, 614],
  [327, -628, -527, 507, 561], [317, -571, -641, 552, 537], [307, -516, -574, 596, 593],
  [297, -604, -518, 538, 524], [287, -542, -607, 617, 568], [277, -587, -551, 569, 611],
  [267, -624, -536, 511, 549], [257, -561, -619, 584, 503], [247, -503, -571, 548, 587],
  [237, -596, -508, 607, 536], [227, -534, -593, 526, 621], [217, -617, -544, 573, 552],
  [207, -558, -627, 619, 597], [197, -583, -562, 502, 528], [187, -521, -516, 556, 609],
  [177, -646, -598, 591, 541], [167, -569, -541, 529, 576], [157, -512, -633, 612, 518],
  [147, -598, -573, 567, 603], [137, -547, -521, 503, 557], [127, -631, -606, 586, 592],
  [117, -576, -553, 544, 506], [107, -523, -589, 627, 571], [97, -604, -532, 561, 617],
  [87, -559, -611, 519, 534], [77, -619, -567, 598, 588], [67, -537, -514, 553, 521],
  [57, -582, -596, 614, 609], [47, -507, -548, 534, 557], [37, -641, -621, 579, 593],
  [27, -568, -576, 508, 516], [17, -527, -531, 621, 574], [7, -593, -608, 566, 538],
  [-3, -551, -563, 527, 612], [-13, -612, -519, 603, 551], [-23, -534, -601, 549, 589],
  [-33, -587, -547, 582, 507], [-43, -509, -633, 511, 566], [-53, -626, -581, 571, 624],
  [-63, -563, -526, 617, 531], [-73, -518, -609, 539, 583], [-83, -597, -556, 594, 548],
  [-93, -541, -502, 523, 606], [-103, -629, -592, 558, 517], [-113, -572, -543, 609, 579],
  [-123, -515, -627, 541, 539], [-133, -586, -571, 587, 592], [-143, -548, -517, 514, 556],
  [-153, -611, -603, 627, 513], [-163, -531, -559, 564, 604], [-173, -594, -531, 503, 537],
  [-183, -557, -614, 598, 577], [-193, -634, -566, 547, 529], [-203, -519, -508, 581, 611],
  [-213, -576, -596, 526, 562], [-223, -609, -549, 616, 504], [-233, -542, -632, 559, 589],
  [-243, -588, -579, 509, 546], [-253, -526, -523, 593, 608], [-263, -619, -601, 541, 567],
  [-273, -563, -551, 618, 521], [-283, -507, -617, 552, 603], [-293, -592, -538, 587, 538],
  [-303, -547, -583, 524, 583], [-313, -623, -511, 569, 514], [-323, -571, -607, 611, 597],
  [-333, -514, -564, 536, 551], [-343, -598, -532, 582, 623], [-353, -552, -594, 501, 507],
  [-363, -636, -546, 557, 569], [-373, -583, -621, 597, 532], [-383, -527, -577, 528, 594],
  [-393, -609, -519, 574, 549], [-403, -561, -603, 612, 581], [-413, -503, -558, 541, 521],
  [-423, -589, -628, 588, 603], [-433, -546, -539, 519, 546], [-443, -617, -572, 563, 584],
];

// 95% confidence bound (metres)
const boundX = [
  0.655, 0.645, 0.616, 0.567, 0.502, 0.421, 0.328, 0.224, 0.114, 0, -0.114, -0.224, -0.328,
  -0.421, -0.502, -0.567, -0.616, -0.645, -0.655, -0.645, -0.616, -0.567, -0.502, -0.421,
  -0.328, -0.224, -0.114, 0, 0.114, 0.224, 0.328, 0.421, 0.502, 0.567, 0.616, 0.645, 0.655,
];
const boundY = [
  0, 0.113, 0.222, 0.325, 0.418, 0.498, 0.563, 0.611, 0.64, 0.65, 0.64, 0.611, 0.563, 0.498,
  0.418, 0.325, 0.222, 0.113, 0, -0.113, -0.222, -0.325, -0.418, -0.498, -0.563, -0.611,
  -0.64, -0.65, -0.64, -0.611, -0.563, -0.498, -0.418, -0.325, -0.222, -0.113, 0,
];

// avoidable region (tiny, at the origin)
const avoidX = [0];
const avoidY = [0];

const toPoints = (rows: number[][]) =>
  rows.flatMap(([y, ...xs]) => xs.map((x) => ({ x: x / 1000, y: y / 1000 })));

const samples = [
  ...toPoints(rowsTop),
  ...toPoints(rowsUpper),
  ...toPoints(rowsCore),
  ...toPoints(rowsLower),
  ...toPoints(rowsBottom),
  ...toPoints(rowsDense),
  ...toPoints(rowsRingSide),
  ...toPoints(rowsRingCap),
  ...toPoints(rowsFlank),
];
const bound = boundX.map((x, i) => ({ x, y: boundY[i] }));
const avoid = avoidX.map((x, i) => ({ x, y: avoidY[i] }));

const FONT = '"Liberation Sans", Arial, Helvetica, sans-serif';
const AXIS = "#262626";
const TICK_TEXT = "#4d4d4d";

const SampleDot = (props: any) => (
  <circle cx={props.cx} cy={props.cy} r={2.5} fill="#000" />
);
const AvoidDot = (props: any) => (
  <circle cx={props.cx} cy={props.cy} r={3} fill="#00ff00" />
);
const NoMarker = () => <g />;

const Overlay = () => (
  <svg
    width={792}
    height={653}
    style={{ position: "absolute", left: 0, top: 0, pointerEvents: "none" }}
  >
    <text x={439} y={26} textAnchor="middle" fontSize={23} fontWeight="bold" fill="#000">
      Positional Uncertainty at t = 2 [s]
    </text>
    <text x={439} y={649} textAnchor="middle" fontSize={22} fill={TICK_TEXT}>
      Cross Track [m]
    </text>
    <text
      x={35}
      y={323}
      textAnchor="middle"
      fontSize={22}
      fill={TICK_TEXT}
      transform="rotate(-90 35 323)"
    >
      Radial [m]
    </text>

    {/* legend */}
    <rect x={486.5} y={55.5} width={281} height={82} fill="#fff" stroke={AXIS} strokeWidth={1} />
    <circle cx={523} cy={72} r={2.5} fill="#000" />
    <text x={560} y={79} fontSize={19} fill={AXIS}>
      Estimated Position
    </text>
    <line x1={492} x2={556} y1={98} y2={98} stroke="#ff0000" strokeWidth={2.5} />
    <text x={560} y={105} fontSize={19} fill={AXIS}>
      95% Confidence Bound
    </text>
    <line x1={492} x2={556} y1={125} y2={125} stroke="#00ff00" strokeWidth={2.5} />
    <text x={560} y={132} fontSize={19} fill={AXIS}>
      Avoidable Region
    </text>
  </svg>
);

export default function App() {
  return (
    <div
      style={{
        position: "absolute",
        left: 0,
        top: 0,
        width: 792,
        height: 653,
        background: "#fff",
        fontFamily: FONT,
      }}
    >
      <ScatterChart width={792} height={653} margin={{ top: 40, right: 7, bottom: 27, left: 33 }}>
        <XAxis
          type="number"
          dataKey="x"
          domain={[-0.712, 0.68]}
          ticks={axisTicks}
          allowDataOverflow
          height={40}
          axisLine={{ stroke: AXIS }}
          tickLine={{ stroke: AXIS }}
          tickSize={-5}
          tickMargin={24}
          tick={{ fill: TICK_TEXT, fontSize: 20 }}
        />
        <YAxis
          type="number"
          dataKey="y"
          domain={[-0.669, 0.722]}
          ticks={axisTicks}
          allowDataOverflow
          width={60}
          axisLine={{ stroke: AXIS }}
          tickLine={{ stroke: AXIS }}
          tickSize={-5}
          tickMargin={16}
          tick={{ fill: TICK_TEXT, fontSize: 20 }}
        />
        <Scatter data={samples} shape={SampleDot} isAnimationActive={false} />
        <Scatter
          data={bound}
          shape={NoMarker}
          line={{ stroke: "#ff0000", strokeWidth: 2.6 }}
          lineJointType="natural"
          isAnimationActive={false}
        />
        <Scatter data={avoid} shape={AvoidDot} isAnimationActive={false} />
      </ScatterChart>
      <Overlay />
    </div>
  );
}
